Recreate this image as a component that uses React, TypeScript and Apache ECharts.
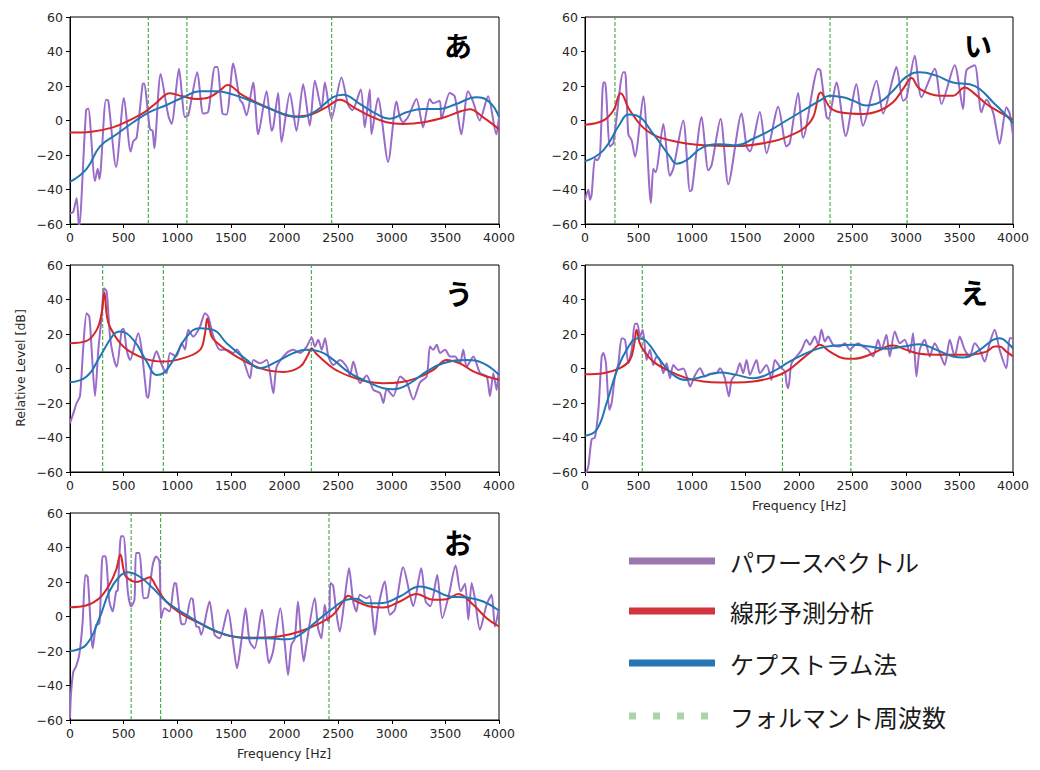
import React, { useEffect, useRef } from "react";
import * as echarts from "echarts";

// ---------- data ----------
const vowels = ["あ", "い", "う", "え", "お"];

const formantsA = [730, 1090, 2440];
const formantsI = [280, 2290, 3010];
const formantsU = [305, 870, 2250];
const formantsE = [535, 1845, 2485];
const formantsO = [570, 845, 2415];

const powerA = [[0,-54],[30,-53],[62,-45],[84,-62],[150,6],[170,7],[233,-35],[258,-28],[275,-34],[335,12],[357,11.5],[430,-27],[503,13],[565,-18],[590,-12],[621,-10],[677,21],[690,21.5],[745,-5],[770,-6],[786,-16],[845,27],[916,3],[947,-2],[1016,30],[1072,2],[1103,3],[1187,28],[1242,4],[1289,5],[1351,31],[1373,31],[1422,4],[1460,3.5],[1522,33],[1584,12],[1610,10],[1646,3],[1708,22],[1755,-8],[1833,17],[1880,-6],[1895,-4],[1941,16],[1972,-12.5],[2050,16],[2112,-6],[2174,21],[2236,-3],[2283,23],[2345,7],[2376,22],[2438,1],[2531,25],[2593,9],[2633,6],[2711,18],[2748,-4],[2795,18],[2811,-8],[2872,13],[2966,-24],[3044,11],[3075,2],[3106,-1],[3152,2],[3230,12.5],[3292,-4],[3354,12.5],[3385,10],[3447,11.5],[3463,1],[3540,16],[3587,14],[3649,-8],[3711,17],[3758,11],[3820,0],[3898,14],[3975,-8],[4000,2]];
const lpcA = [[0,-7],[200,-6.5],[400,-4],[550,0],[700,5],[800,10],[932,15.8],[1050,14],[1180,12.5],[1300,13.5],[1400,17.5],[1469,20.6],[1600,15],[1750,10],[1900,6],[2081,2.3],[2250,3.5],[2400,8],[2515,12],[2650,7.5],[2800,2.5],[2950,-1],[3106,-2],[3300,-1],[3500,2],[3650,5.5],[3727,6.5],[3850,2],[4000,-5]];
const cepA = [[0,-35.6],[155,-28],[280,-15],[435,-8],[590,-1],[745,5],[900,9],[1056,13.5],[1211,17],[1366,17],[1522,15],[1677,11.5],[1832,7.7],[1988,3.8],[2143,2],[2298,5.8],[2453,13.5],[2546,15],[2702,9.6],[2857,3.8],[2981,1],[3137,4.8],[3292,6.7],[3447,6.7],[3602,9.6],[3789,13.5],[3913,10.6],[4000,2]];

const powerI = [[0,-46],[31,-40],[47,-46],[62,-43],[93,-22],[115,-23],[140,-20],[171,22],[187,22],[233,-15],[265,-13],[358,28],[375,28],[405,-8],[436,-11.5],[467,-21],[545,14],[616,-48],[638,-28],[660,-30],[732,-2],[794,-32],[825,-28],[918,0],[981,-41],[1000,-40],[1090,2],[1152,-29],[1183,-26],[1267,1],[1339,-37],[1463,4],[1510,-15],[1541,-18],[1634,5],[1697,-19],[1806,8],[1883,-15],[1914,-13],[1992,16],[2039,-10],[2179,30],[2200,29],[2257,2],[2275,1],[2350,22],[2437,-9],[2537,21],[2599,-3],[2724,23],[2786,4],[2879,25],[2910,31],[2973,11.5],[3004,13],[3082,37.5],[3144,13.5],[3269,30],[3331,9.6],[3455,32],[3533,6.7],[3564,29],[3642,32],[3704,4.8],[3751,12],[3813,5],[3875,-13.5],[3938,7.7],[3969,4],[4000,-8.7]];
const lpcI = [[0,-2.5],[171,0],[265,5.8],[333,15.8],[420,5.8],[576,-5.8],[794,-11.5],[1105,-14.4],[1416,-14.8],[1727,-12.5],[1883,-9.6],[2039,-4.8],[2132,1.9],[2204,16.3],[2288,7.7],[2381,4.8],[2599,3.8],[2755,5.8],[2879,10.6],[2973,18.3],[3051,24.6],[3128,18.3],[3315,14.4],[3440,14.4],[3549,19.2],[3626,16.3],[3751,9.6],[3875,4.8],[4000,0.4]];
const cepI = [[0,-23.7],[171,-17.3],[327,-1.9],[405,3.5],[482,2.9],[638,-7.7],[794,-21],[856,-25],[949,-23],[1105,-15.4],[1261,-13.8],[1416,-14.4],[1572,-10.6],[1727,-5.8],[1883,0],[2039,5.8],[2194,11.5],[2288,14.4],[2412,13.5],[2506,11.5],[2630,8.7],[2755,10.6],[2879,17.3],[3004,25.4],[3128,27.9],[3284,26],[3440,22],[3595,21],[3689,18.3],[3813,10.6],[3938,2.9],[4000,-1.5]];

const powerU = [[0,-31.7],[31,-26],[62,-20],[93,-16],[124,12.7],[155,32],[180,30],[202,10.8],[233,-16],[264,10.8],[295,30],[317,46.5],[342,44.6],[373,18.5],[404,7],[435,1],[482,22.4],[500,23],[528,10.8],[560,5],[637,20.5],[668,10.8],[715,-16],[730,-17],[761,1],[808,10],[839,5],[870,0],[901,-2.7],[932,9],[990,7],[1041,14.7],[1072,11],[1103,22.4],[1150,18.5],[1212,24.3],[1259,32],[1290,30],[1337,18.5],[1399,10.8],[1461,10.8],[1523,9],[1555,11],[1616,5],[1678,-5.6],[1710,5],[1772,3],[1834,5],[1896,-14.3],[1927,1],[2020,9],[2082,10.8],[2145,9],[2207,12.7],[2253,18],[2284,12.7],[2315,16.6],[2347,10.8],[2378,17.6],[2409,7],[2456,2],[2518,5],[2580,1],[2611,-3.7],[2642,4],[2704,-8.5],[2766,-4],[2829,-12.4],[2891,-14.3],[2922,-20],[2953,-12],[3015,-16],[3077,-4.6],[3139,-8],[3201,-18],[3264,-8],[3326,-4.6],[3357,12.7],[3388,10.8],[3419,13.7],[3450,9],[3497,10.8],[3543,7],[3590,7],[3636,3],[3667,10.8],[3699,1],[3761,7],[3823,-2.7],[3885,-4.6],[3916,-16],[3947,-2.7],[3978,-12.4],[4000,1]];
const lpcU = [[0,14.7],[155,16],[249,22.4],[295,32],[320,44],[345,30],[373,24],[497,12.7],[684,6],[870,4],[1057,6],[1212,10.8],[1255,19],[1280,29],[1305,22],[1336,17],[1523,8],[1772,0.2],[1989,-2],[2145,1],[2220,8],[2253,11.8],[2290,9],[2331,6.5],[2456,0],[2611,-4.6],[2766,-7.5],[2922,-8.5],[3077,-8],[3233,-5.6],[3388,-0.8],[3512,5],[3636,3],[3760,-1.7],[3885,-4.6],[4000,-6.5]];
const cepU = [[0,-8],[155,-4.6],[280,7],[404,19.5],[466,21.4],[591,16.6],[715,4],[808,-3.7],[870,-2.7],[964,5],[1088,18.5],[1212,23.4],[1337,22.4],[1461,14.7],[1647,5],[1772,0.2],[1927,4],[2082,8.9],[2207,10.8],[2331,9.8],[2456,5],[2611,-2.7],[2766,-7.5],[2922,-11.4],[3015,-12],[3170,-8.5],[3326,-1.7],[3481,3],[3699,5],[3855,3],[4000,-3.7]];

const powerE = [[0,-62],[31,-56.7],[62,-41],[93,-40],[125,-24],[156,7],[171,9],[196,3],[227,-24],[249,-20],[280,-4.6],[312,3],[343,17.6],[374,16.6],[405,3],[436,10.8],[467,26],[489,26],[514,18.5],[539,22.4],[576,5],[607,10.8],[638,2],[669,7],[700,5],[732,-2.7],[763,3],[794,-5.6],[825,2],[872,-0.8],[918,0],[965,-7.5],[981,-10.4],[1027,-4],[1074,0.2],[1121,-4.6],[1168,-3],[1230,-2.7],[1261,0.2],[1307,-5.6],[1345,-16.2],[1370,-6.6],[1416,-2.7],[1447,3],[1478,-2.7],[1510,5],[1541,-3.7],[1603,5],[1634,-2.7],[1697,2],[1743,-6.6],[1774,5],[1821,1],[1868,-1.7],[1883,-8.5],[1899,-11.4],[1930,3],[1977,7],[2024,10.8],[2070,16.6],[2101,13.7],[2148,18.5],[2179,13.7],[2210,22.4],[2241,15.6],[2272,18.5],[2319,13.7],[2381,12.7],[2428,14.7],[2475,10.8],[2506,12.7],[2553,14.7],[2600,12.7],[2646,10.8],[2693,7],[2739,16.6],[2770,10.8],[2817,19.5],[2848,7],[2895,21.4],[2942,14.7],[2988,16.6],[3035,9],[3066,20.5],[3097,-4.6],[3128,10.8],[3175,16.6],[3222,7],[3268,14.7],[3315,9],[3362,2],[3409,16.6],[3455,7],[3502,18.5],[3549,10.8],[3596,7],[3642,14.7],[3689,10.8],[3735,4],[3782,14.7],[3829,22.4],[3875,10.8],[3938,0.2],[3969,17.6],[4000,17.6]];
const lpcE = [[0,-3.3],[171,-2.7],[327,0.2],[420,5],[460,14],[482,22.4],[510,15],[545,10.8],[638,4],[794,-1.7],[949,-5.6],[1105,-7.5],[1261,-8.1],[1416,-8.1],[1572,-7.5],[1727,-5.6],[1883,-1.7],[2039,6],[2132,10.8],[2194,13.7],[2288,9.8],[2412,6],[2506,5.6],[2661,8],[2817,12.7],[2879,13.3],[3004,10.8],[3128,8.5],[3284,8],[3440,8],[3595,8],[3751,9.8],[3829,12.7],[3875,12.7],[3938,9.8],[4000,7]];
const cepE = [[0,-39],[109,-35.5],[202,-20],[296,-1.7],[389,10.8],[498,17.6],[576,15.6],[700,5],[825,-3.7],[949,-6.6],[1105,-4.6],[1261,-2.3],[1416,-3.7],[1572,-5.6],[1759,-1.7],[1883,3],[2039,8],[2194,11.8],[2350,13.3],[2506,13.7],[2661,12.7],[2817,11.4],[2973,12.7],[3128,14],[3284,10.8],[3440,7],[3533,6.4],[3689,10.8],[3813,16.6],[3875,17.6],[3969,13.7],[4000,11.4]];

const powerO = [[0,-59],[9,-45],[31,-32],[56,-29],[87,-22],[118,-3],[143,24],[165,23],[212,-18.4],[243,-5],[274,-4],[305,35],[330,35],[367,8.7],[398,3],[430,14.5],[445,15],[476,46.5],[498,46.5],[539,14.5],[570,5.8],[601,9.7],[616,36.8],[647,36.8],[688,10.6],[725,11],[772,30],[803,34.8],[834,32],[850,-1],[881,4.8],[928,2.9],[974,19.4],[990,19],[1036,-3.9],[1067,-4.5],[1130,10.6],[1145,10],[1177,-5.8],[1200,-6],[1223,-10.6],[1301,8.7],[1348,-10.6],[1395,-12.6],[1472,3.9],[1519,-14.5],[1557,-30],[1597,-14.5],[1637,4.8],[1675,-14.5],[1721,-18.4],[1790,3.9],[1830,-16.5],[1855,-27],[1893,-20.3],[1961,4.8],[2002,-15.5],[2033,-33.9],[2064,-16.5],[2095,-13],[2126,8.7],[2157,-14.5],[2179,-26],[2204,-16.5],[2282,10.6],[2313,-6.8],[2344,-12.6],[2375,6.8],[2400,-2],[2416,-2.9],[2428,19.4],[2453,18],[2484,1.9],[2515,-8.7],[2560,10],[2602,28],[2640,8.7],[2671,2.9],[2702,12.6],[2764,10.6],[2795,12],[2842,-10.6],[2873,5],[2935,20.3],[2982,1],[3030,4],[3107,28.5],[3169,12.6],[3200,6],[3275,28],[3316,8.7],[3360,6],[3424,24],[3471,-1],[3533,12.6],[3595,29.6],[3642,14.5],[3683,19],[3714,-1.9],[3745,19.4],[3776,10],[3822,-7.7],[3884,6.8],[3931,12.6],[3962,-5.8],[4000,4.8]];
const lpcO = [[0,5.4],[149,6.4],[274,10.6],[367,18.4],[430,27],[470,36],[500,27],[523,23],[616,20],[710,22],[741,22.8],[803,17.4],[897,8.7],[1052,1],[1208,-3.9],[1363,-8.7],[1519,-11.6],[1700,-12.3],[1830,-12.2],[1986,-11.2],[2142,-8.7],[2297,-4.8],[2453,1],[2546,8.7],[2593,12],[2671,8.7],[2795,5.8],[2920,5.2],[3075,8.7],[3231,13],[3387,9.7],[3511,10],[3620,13],[3760,6.8],[3885,-1],[4000,-5.8]];
const cepO = [[0,-20],[149,-16.5],[274,-1],[367,14.5],[461,23.2],[539,25.7],[647,23.2],[772,16.5],[897,8.7],[1083,1],[1270,-5.8],[1457,-10.6],[1644,-12.6],[1830,-12.6],[2017,-13.2],[2142,-10.6],[2297,-2.9],[2453,4.8],[2577,9.7],[2671,10.3],[2764,7.7],[2889,7.7],[3075,11.6],[3262,17.4],[3387,15.5],[3542,11.6],[3698,11],[3853,8.7],[4000,3.5]];

const powerSets = [powerA, powerI, powerU, powerE, powerO];
const lpcSets = [lpcA, lpcI, lpcU, lpcE, lpcO];
const cepSets = [cepA, cepI, cepU, cepE, cepO];
const formantSets = [formantsA, formantsI, formantsU, formantsE, formantsO];

const legendLabels = ["パワースペクトル", "線形予測分析", "ケプストラム法", "フォルマント周波数"];
const yAxisTitle = "Relative Level [dB]";
const xAxisTitle = "Frequency [Hz]";
const Y_MIN = -60;
const Y_MAX = 60;

// ---------- layout / style ----------
const gridBoxes = [
  { left: 70, top: 17, width: 429, height: 207 },
  { left: 585, top: 17, width: 428, height: 207 },
  { left: 70, top: 265, width: 429, height: 207 },
  { left: 585, top: 265, width: 428, height: 207 },
  { left: 70, top: 513, width: 429, height: 207 },
];
const vowelPos = [
  [458, 45], [978, 45], [459, 293], [974, 292], [458, 542],
];
const C_PURPLE = "#9a6bc9";
const C_RED = "#d62728";
const C_BLUE = "#1f77b4";
const C_GREEN = "#2ca02c";
const FONT = "DejaVu Sans";
const JP = "Noto Sans CJK JP";

export default function App() {
  const ref = useRef<HTMLDivElement>(null);
  useEffect(() => {
    if (!ref.current) return;
    const chart = echarts.init(ref.current, undefined, { renderer: "svg" });
    const grid = gridBoxes.map((g) => ({
      ...g,
      show: true,
      borderColor: "#000",
      borderWidth: 1,
      backgroundColor: "transparent",
      containLabel: false,
    }));
    const xAxis = gridBoxes.map((_, i) => ({
      type: "value",
      gridIndex: i,
      min: 0,
      max: 4000,
      interval: 500,
      axisLine: { show: true, onZero: false, lineStyle: { color: "#000", width: 1 } },
      axisTick: { show: true, inside: false, length: 4, lineStyle: { color: "#000" } },
      axisLabel: {
        margin: 7,
        color: "#262626",
        fontFamily: FONT,
        fontSize: 12.5,
        formatter: (v: number) => String(v),
      },
      splitLine: { show: false },
    }));
    const yAxis = gridBoxes.map((_, i) => ({
      type: "value",
      gridIndex: i,
      min: Y_MIN,
      max: Y_MAX,
      interval: 20,
      axisLine: { show: true, onZero: false, lineStyle: { color: "#000", width: 1 } },
      axisTick: { show: true, inside: false, length: 4, lineStyle: { color: "#000" } },
      axisLabel: {
        margin: 7,
        color: "#262626",
        fontFamily: FONT,
        fontSize: 12.5,
        formatter: (v: number) => String(v).replace("-", "\u2212"),
      },
      splitLine: { show: false },
    }));
    const series: any[] = [];
    for (let i = 0; i < 5; i++) {
      formantSets[i].forEach((f) => {
        series.push({
          type: "line",
          xAxisIndex: i,
          yAxisIndex: i,
          data: [[f, Y_MIN], [f, Y_MAX]],
          showSymbol: false,
          silent: true,
          itemStyle: { color: C_GREEN },
          lineStyle: { color: C_GREEN, width: 1, type: [4, 2] },
          z: 1,
        });
      });
      series.push({
        type: "line",
        xAxisIndex: i,
        yAxisIndex: i,
        data: powerSets[i],
        showSymbol: false,
        smooth: 0.25,
        itemStyle: { color: C_PURPLE },
        lineStyle: { color: C_PURPLE, width: 2 },
        z: 2,
      });
      series.push({
        type: "line",
        xAxisIndex: i,
        yAxisIndex: i,
        data: lpcSets[i],
        showSymbol: false,
        smooth: 0.4,
        itemStyle: { color: C_RED },
        lineStyle: { color: C_RED, width: 2 },
        z: 3,
      });
      series.push({
        type: "line",
        xAxisIndex: i,
        yAxisIndex: i,
        data: cepSets[i],
        showSymbol: false,
        smooth: 0.45,
        itemStyle: { color: C_BLUE },
        lineStyle: { color: C_BLUE, width: 2 },
        z: 4,
      });
    }
    const graphic: any[] = [];
    vowels.forEach((v, i) => {
      graphic.push({
        type: "text",
        x: vowelPos[i][0],
        y: vowelPos[i][1],
        style: {
          text: v,
          fontFamily: JP,
          fontWeight: "bold",
          fontSize: 28,
          fill: "#000",
          textAlign: "center",
          textVerticalAlign: "middle",
        },
        z: 10,
      });
    });
    graphic.push({
      type: "text",
      x: 20,
      y: 368,
      rotation: Math.PI / 2,
      style: {
        text: yAxisTitle,
        fontFamily: FONT,
        fontSize: 12.5,
        fill: "#262626",
        textAlign: "center",
        textVerticalAlign: "middle",
      },
    });
    [[799, 505], [284, 753]].forEach(([x, y]) => {
      graphic.push({
        type: "text",
        x,
        y,
        style: {
          text: xAxisTitle,
          fontFamily: FONT,
          fontSize: 12.5,
          fill: "#262626",
          textAlign: "center",
          textVerticalAlign: "middle",
        },
      });
    });
    const legendColors = ["#9c77ae", "#d1343a", "#2577b3", "#a8d6a8"];
    const legendY = [561, 611, 663, 716];
    legendLabels.forEach((t, i) => {
      graphic.push({
        type: "line",
        shape: { x1: 629, y1: legendY[i], x2: 715, y2: legendY[i] },
        style: {
          stroke: legendColors[i],
          lineWidth: 7,
          lineCap: "butt",
          lineDash: i === 3 ? [7, 17] : null,
        },
      });
      graphic.push({
        type: "text",
        x: 730,
        y: legendY[i],
        style: {
          text: t,
          fontFamily: JP,
          fontSize: 24,
          fill: "#1a1a1a",
          textAlign: "left",
          textVerticalAlign: "middle",
        },
      });
    });
    chart.setOption({
      animation: false,
      backgroundColor: "#fff",
      grid,
      xAxis,
      yAxis,
      series,
      graphic,
    });
    return () => chart.dispose();
  }, []);
  return (
    <div
      ref={ref}
      style={{ position: "fixed", left: 0, top: 0, width: 1040, height: 770 }}
    />
  );
}
